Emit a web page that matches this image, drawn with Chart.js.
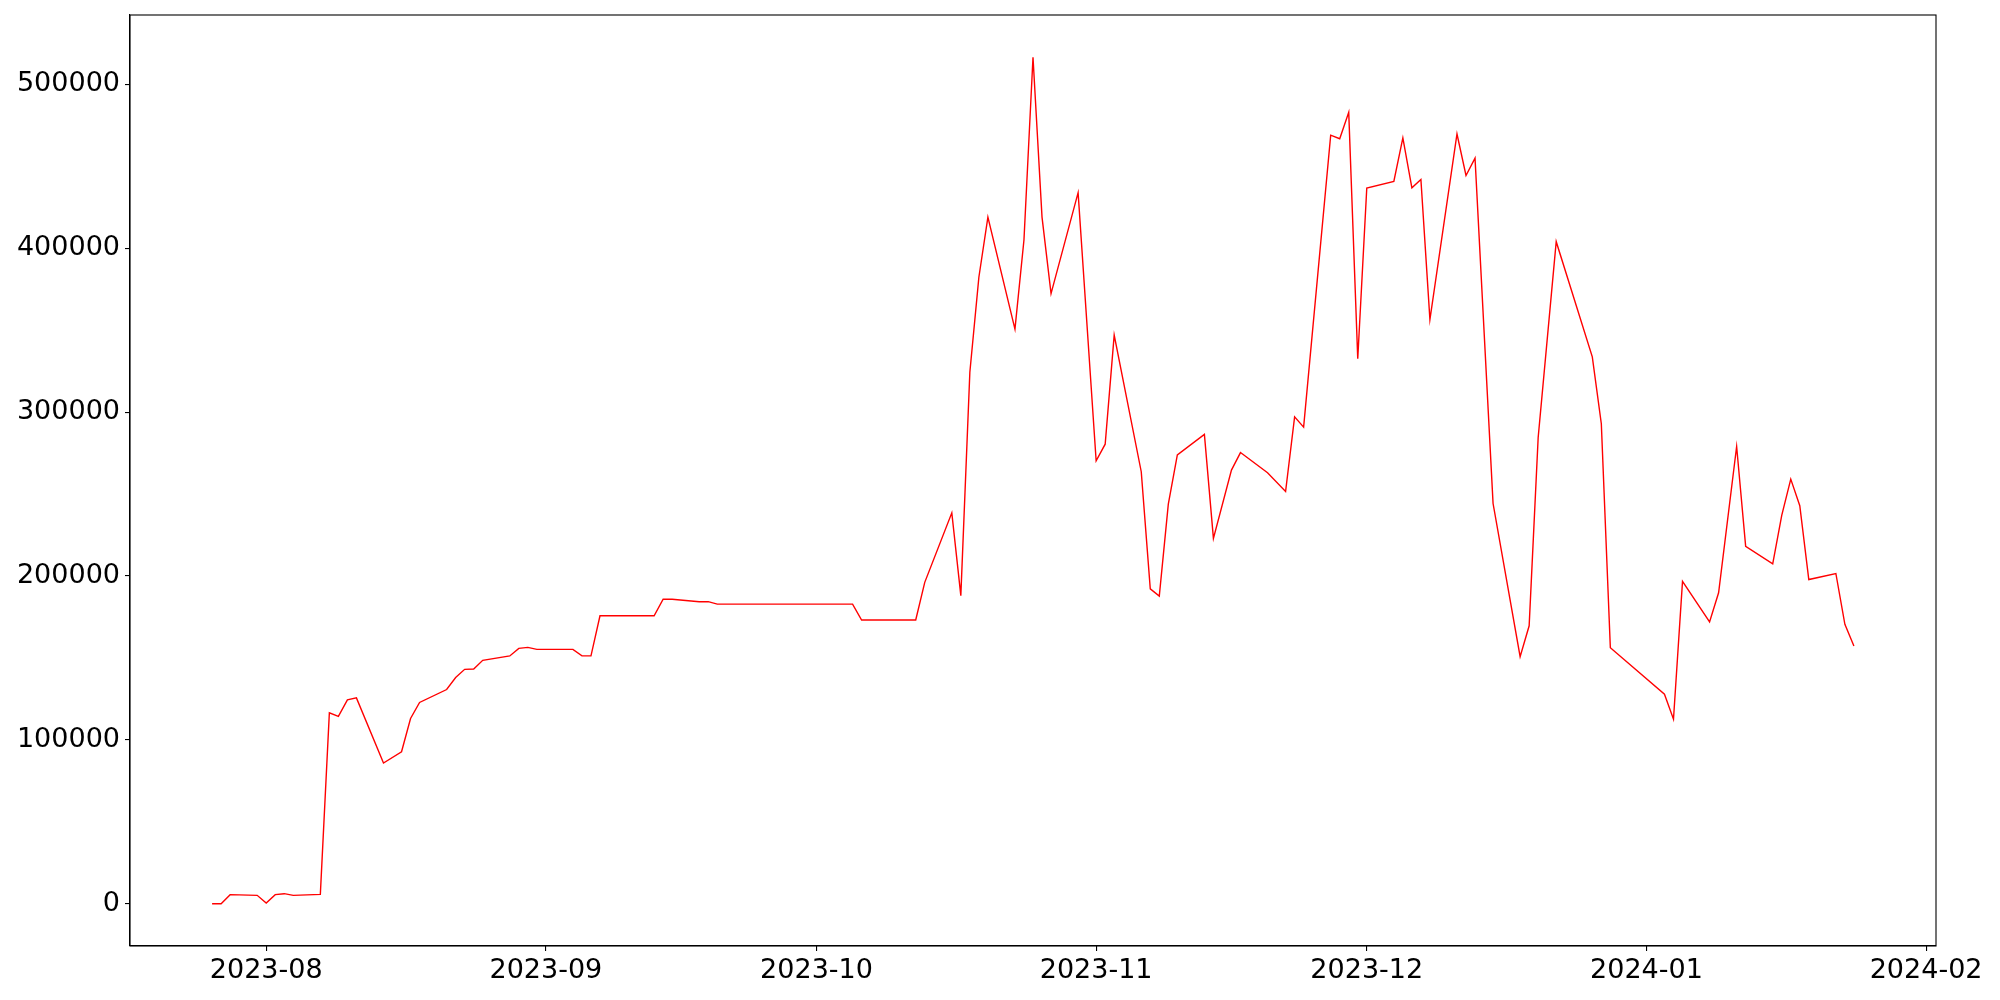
<!DOCTYPE html>
<html>
<head>
<meta charset="utf-8">
<title>Series</title>
<script src="https://cdn.jsdelivr.net/npm/chart.js@4.4.0/dist/chart.umd.min.js"></script>
<style>
  html, body { margin: 0; padding: 0; background: #fff; }
  #wrap { width: 2000px; height: 1000px; }
</style>
</head>
<body>
<div id="wrap"><canvas id="chart" width="2000" height="1000"></canvas></div>
<script>
'use strict';

/* ── data (business days) ── */
const DATES = [
  '2023-07-26','2023-07-27','2023-07-28','2023-07-31',
  '2023-08-01','2023-08-02','2023-08-03','2023-08-04','2023-08-07','2023-08-08','2023-08-09','2023-08-10','2023-08-11',
  '2023-08-14','2023-08-16','2023-08-17','2023-08-18','2023-08-21','2023-08-22','2023-08-23','2023-08-24','2023-08-25',
  '2023-08-28','2023-08-29','2023-08-30','2023-08-31','2023-09-01',
  '2023-09-04','2023-09-05','2023-09-06','2023-09-07','2023-09-08','2023-09-11','2023-09-12','2023-09-13','2023-09-14','2023-09-15',
  '2023-09-18','2023-09-19','2023-09-20','2023-09-21','2023-09-22','2023-09-25','2023-09-26','2023-09-27','2023-09-28','2023-09-29',
  '2023-10-02','2023-10-03','2023-10-04','2023-10-05','2023-10-06','2023-10-09','2023-10-10','2023-10-11','2023-10-12','2023-10-13',
  '2023-10-16','2023-10-17','2023-10-18','2023-10-19','2023-10-20','2023-10-23','2023-10-24','2023-10-25','2023-10-26','2023-10-27',
  '2023-10-30','2023-11-01','2023-11-02','2023-11-03','2023-11-06','2023-11-07','2023-11-08','2023-11-09','2023-11-10',
  '2023-11-13','2023-11-14','2023-11-16','2023-11-17','2023-11-20','2023-11-22','2023-11-23','2023-11-24',
  '2023-11-27','2023-11-28','2023-11-29','2023-11-30','2023-12-01','2023-12-04','2023-12-05','2023-12-06','2023-12-07','2023-12-08',
  '2023-12-11','2023-12-12','2023-12-13','2023-12-15','2023-12-18','2023-12-19','2023-12-20','2023-12-22',
  '2023-12-26','2023-12-27','2023-12-28','2024-01-03','2024-01-04','2024-01-05',
  '2024-01-08','2024-01-09','2024-01-11','2024-01-12','2024-01-15','2024-01-16','2024-01-17','2024-01-18','2024-01-19',
  '2024-01-22','2024-01-23','2024-01-24'
];

const VALUES = [
  0, 0, 5500, 5100,
  400, 5500, 6100, 5100, 5700, 116500, 114300, 124400, 125600,
  85800, 92700, 113000, 122800, 130700, 138000, 143000, 143200, 148500,
  151200, 155800, 156400, 155200, 155200,
  155200, 151200, 151200, 175700, 175700, 175700, 175700, 175700, 185800, 185800,
  184300, 184300, 182800, 182800, 182800, 182800, 182800, 182800, 182800, 182800,
  182800, 182800, 182800, 182800, 173100, 173100, 173100, 173100, 173100, 196100,
  238500, 188000, 324300, 382300, 419000, 350600, 405200, 516500, 419000, 372300,
  433900, 270300, 280400, 347000, 263600, 192100, 187700, 243800, 273900,
  286400, 222900, 264600, 275300, 263000, 251500, 297100, 290800,
  469000, 466800, 482900, 332500, 436700, 440800, 467300, 436900, 442000, 356500,
  469700, 444400, 455000, 244200, 150800, 169600, 284500, 404000,
  333700, 292900, 156200, 127800, 112600, 196700,
  171900, 189700, 279000, 218100, 207400, 237000, 259100, 242900, 197800,
  201500, 170500, 157300
];

const X_TICKS = ['2023-08', '2023-09', '2023-10', '2023-11', '2023-12', '2024-01', '2024-02'];
const Y_TICKS = [0, 100000, 200000, 300000, 400000, 500000];

/* ── helpers ── */
const DAY = 86400000;
function toDay(s) {
  const p = s.split('-').map(Number);
  return Date.UTC(p[0], p[1] - 1, p[2] || 1) / DAY;
}

const points = DATES.map((d, i) => ({ x: toDay(d), y: VALUES[i] }));

// matplotlib-like 5% margins
const xLo = points[0].x, xHi = points[points.length - 1].x;
const yLo = Math.min(...VALUES), yHi = Math.max(...VALUES);
const xPad = (xHi - xLo) * 0.05, yPad = (yHi - yLo) * 0.05;

const FONT = { family: "'DejaVu Sans', sans-serif", size: 27 };

/* frame round the plot area (top/right spines) */
const framePlugin = {
  id: 'frame',
  afterDraw(chart) {
    const a = chart.chartArea, ctx = chart.ctx;
    ctx.save();
    ctx.strokeStyle = '#000';
    ctx.lineWidth = 1.1;
    ctx.strokeRect(a.left, a.top, a.right - a.left, a.bottom - a.top);
    ctx.restore();
  }
};

new Chart(document.getElementById('chart'), {
  type: 'line',
  data: {
    datasets: [{
      data: points,
      borderColor: '#ff0000',
      borderWidth: 1.4,
      pointRadius: 0,
      tension: 0,
      fill: false
    }]
  },
  options: {
    responsive: false,
    animation: false,
    devicePixelRatio: 1,
    layout: { padding: { left: 0, right: 64, top: 15, bottom: 0 } },
    plugins: { legend: { display: false }, tooltip: { enabled: false } },
    scales: {
      x: {
        type: 'linear',
        min: xLo - xPad,
        max: xHi + xPad,
        afterBuildTicks: s => { s.ticks = X_TICKS.map(t => ({ value: toDay(t) })); },
        afterFit: s => { s.height = 54; s.paddingLeft = 0; s.paddingRight = 0; },
        grid: { drawOnChartArea: false, drawTicks: true, tickLength: 5, color: '#000', lineWidth: 1.1 },
        border: { display: true, color: '#000', width: 1.1 },
        ticks: {
          color: '#000',
          font: FONT,
          padding: 4,
          maxRotation: 0,
          autoSkip: false,
          callback: v => {
            const d = new Date(v * DAY);
            return d.getUTCFullYear() + '-' + String(d.getUTCMonth() + 1).padStart(2, '0');
          }
        }
      },
      y: {
        type: 'linear',
        min: yLo - yPad,
        max: yHi + yPad,
        afterBuildTicks: s => { s.ticks = Y_TICKS.map(v => ({ value: v })); },
        afterFit: s => { s.width = 130; s.paddingTop = 0; s.paddingBottom = 0; },
        grid: { drawOnChartArea: false, drawTicks: true, tickLength: 5, color: '#000', lineWidth: 1.1 },
        border: { display: true, color: '#000', width: 1.1 },
        ticks: {
          color: '#000',
          font: FONT,
          padding: 5,
          autoSkip: false,
          callback: v => String(v)
        }
      }
    }
  },
  plugins: [framePlugin]
});
</script>
</body>
</html>
